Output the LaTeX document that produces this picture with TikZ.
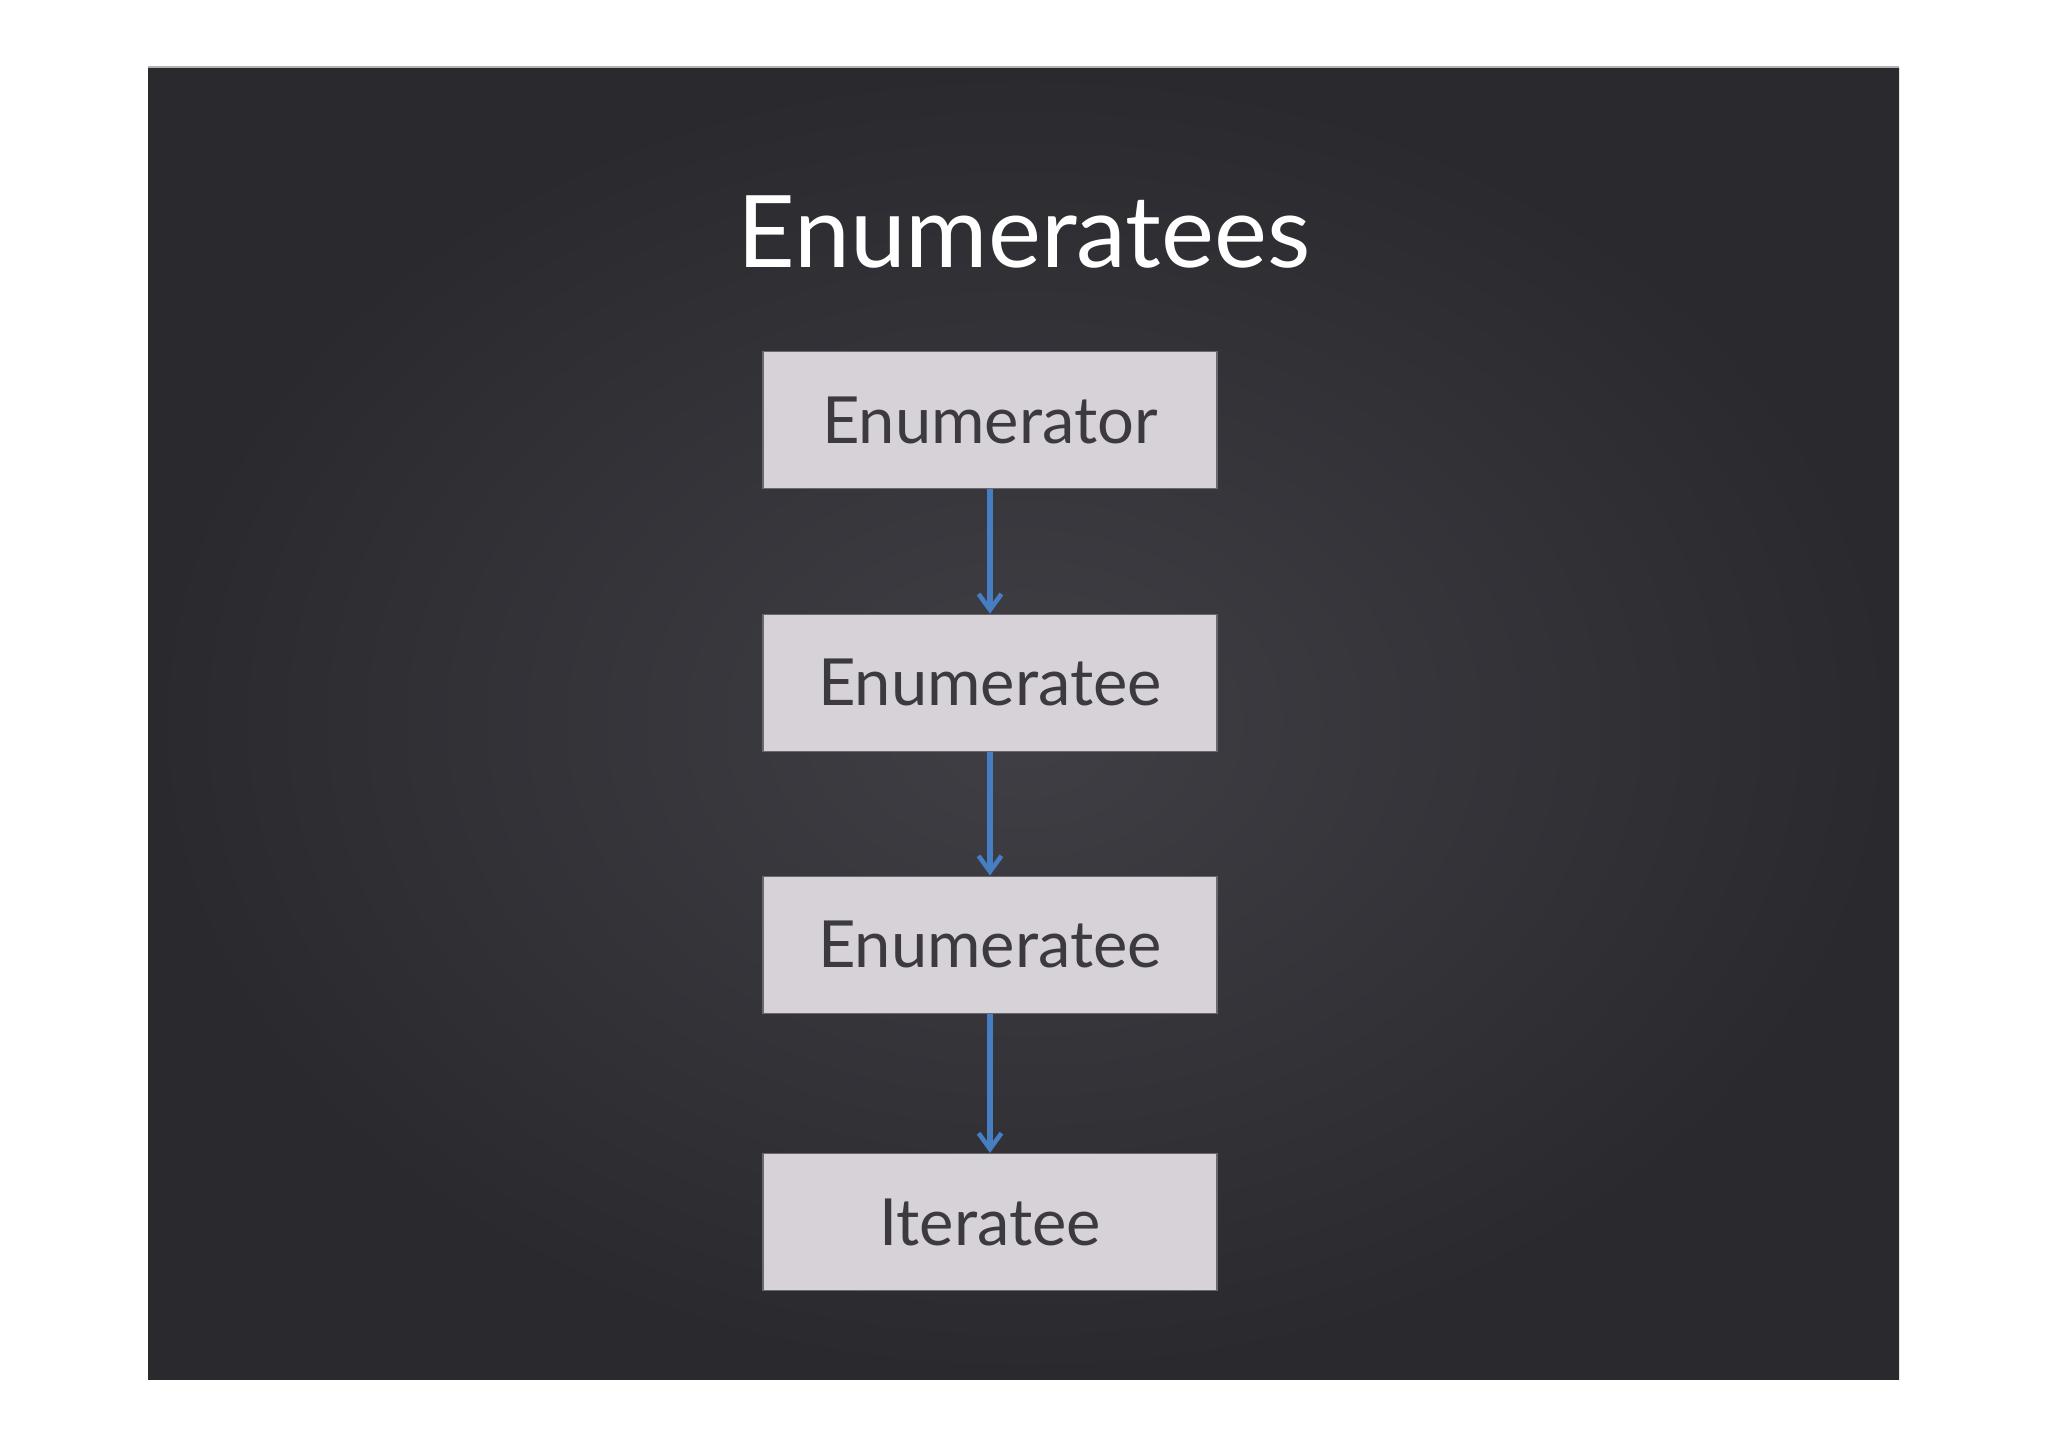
\documentclass[tikz,border=0pt]{standalone}
\usepackage{fontspec}
\setmainfont{Lato}
\usetikzlibrary{positioning,arrows.meta}

\begin{document}
\begin{tikzpicture}[x=0.02cm,y=-0.02cm,
   stage/.style={draw=boxedge, line width=0.8pt, fill=boxfill, text=boxtext,
      minimum width=9.08cm, minimum height=2.74cm, inner sep=0pt, font=\fontsize{37}{40}\selectfont},
   flow/.style={draw=arrowblue, line width=2.9pt, -{Straight Barb[length=9pt,width=13pt,line width=2.6pt]}}]
   \definecolor{board}{RGB}{42,41,46}
   \definecolor{boardlight}{RGB}{64,63,69}
   \definecolor{boxfill}{RGB}{214,210,216}
   \definecolor{boxedge}{RGB}{105,104,110}
   \definecolor{boxtext}{RGB}{60,58,63}
   \definecolor{arrowblue}{RGB}{70,125,195}
   \useasboundingbox (0,0) rectangle (2048,1447);
   \fill[white] (0,0) rectangle (2048,1447);
   % chalkboard
   \shade[inner color=boardlight, outer color=board] (148,67) rectangle (1899,1379);
   \draw[gray!60, line width=0.6pt] (148,67) -- (1899,67);
   \node[text=white, font=\fontsize{57}{60}\selectfont] (title) at (1024,232) {Enumeratees};
   % the chain
   \node[stage] (enumerator) at (990,420) {Enumerator};
   \node[stage, below=2.49cm of enumerator] (first) {Enumeratee};
   \node[stage, below=2.47cm of first] (second) {Enumeratee};
   \node[stage, below=2.78cm of second] (iteratee) {Iteratee};
   \draw[flow] (enumerator) -- (first);
   \draw[flow] (first) -- (second);
   \draw[flow] (second) -- (iteratee);
\end{tikzpicture}
\end{document}
